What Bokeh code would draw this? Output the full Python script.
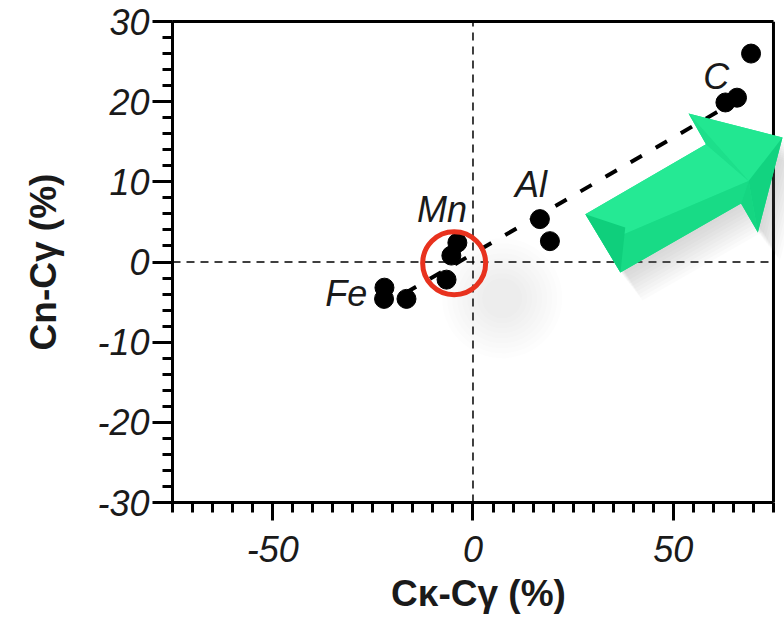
from bokeh.plotting import figure
from bokeh.models import (ColumnDataSource, LinearAxis, SingleIntervalTicker,
                          FixedTicker, Range1d)
from bokeh.core.properties import value
from bokeh.embed import file_html
from bokeh.resources import INLINE

# Composition differences (%) for each alloying element
fe_dk = [-22.1, -22.2, -16.6]
fe_dn = [-3.2, -4.6, -4.6]
mn_dk = [-3.9, -5.4, -6.6]
mn_dn = [2.4, 0.8, -2.2]
al_dk = [16.7, 19.2]
al_dn = [5.35, 2.6]
c_dk = [63.0, 65.9, 69.4]
c_dn = [19.9, 20.5, 26.0]

# Dashed trend through the element groups
trend_dk = [-17.0, 63.0]
trend_dn = [-3.9, 19.3]

# Element names and where they sit (left edge, vertical middle)
element_names = ["Fe", "Mn", "Al", "C"]
element_label_dk = [-36.9, -14.0, 10.5, 57.5]
element_label_dn = [-3.9, 6.6, 9.7, 23.2]

# Tick values and their printed labels (plain hyphen minus)
x_tick_values = [-50, 0, 50]
x_tick_labels = ["-50", "0", "50"]
y_tick_values = [-30, -20, -10, 0, 10, 20, 30]
y_tick_labels = ["-30", "-20", "-10", "0", "10", "20", "30"]

# Highlight ring around the Mn group
ring_dk = [-4.7]
ring_dn = [-0.15]

# Block arrow (data space): tail-top, shaft-top, barb-top, tip, barb-bottom, shaft-bottom, tail-bottom
arrow_dk = [28.05, 58.15, 53.8, 77.25, 71.1, 66.9, 36.8]
arrow_dn = [5.97, 14.70, 18.52, 15.52, 3.68, 7.29, -1.31]
arrow_tail_apex = (38.0, 4.3)
arrow_head_centre = (68.8, 10.1)

X_START, X_END, X_AXIS_END = -75, 77.75, 75
Y_START, Y_END = -30, 30
FRAME_W, FRAME_H = 612, 481
PX_X = FRAME_W / (X_END - X_START)
PX_Y = FRAME_H / (Y_END - Y_START)

p = figure(frame_width=FRAME_W, frame_height=FRAME_H,
           x_range=Range1d(X_START, X_END), y_range=Range1d(Y_START, Y_END),
           min_border_left=172, min_border_right=0, min_border_top=21,
           min_border_bottom=118, x_axis_location=None, y_axis_location=None,
           output_backend="svg", toolbar_location=None)
p.grid.visible = False
p.outline_line_color = None
p.background_fill_color = "white"
p.border_fill_color = "white"

FONT = "Liberation Sans"


def style_axis(ax):
    ax.axis_line_width = 3
    ax.axis_line_color = "black"
    ax.major_tick_line_width = 3
    ax.minor_tick_line_width = 3
    ax.major_tick_in = 0
    ax.minor_tick_in = 0
    ax.minor_tick_out = 10
    ax.major_label_text_font = FONT
    ax.major_label_text_font_style = "italic"
    ax.major_label_text_font_size = "36px"
    ax.major_label_text_color = "#1a1a1a"
    ax.axis_label_text_font = FONT
    ax.axis_label_text_font_style = "bold"
    ax.axis_label_text_font_size = "37px"
    ax.axis_label_text_color = "#1a1a1a"


xaxis = LinearAxis(ticker=SingleIntervalTicker(interval=50, num_minor_ticks=10),
                   bounds=(X_START, X_AXIS_END), axis_label="Cκ-Cγ (%)")
style_axis(xaxis)
xaxis.major_tick_out = 18
xaxis.major_label_standoff = 15
xaxis.axis_label_standoff = 8
xaxis.major_label_overrides = dict(zip(x_tick_values, x_tick_labels))
p.add_layout(xaxis, "below")

yaxis = LinearAxis(ticker=SingleIntervalTicker(interval=10, num_minor_ticks=5),
                   axis_label="Cn-Cγ (%)")
style_axis(yaxis)
yaxis.major_tick_out = 20
yaxis.major_label_standoff = 3
yaxis.axis_label_standoff = 30
yaxis.major_label_overrides = dict(zip(y_tick_values, y_tick_labels))
p.add_layout(yaxis, "left")

top_axis = LinearAxis(ticker=FixedTicker(ticks=[]), bounds=(X_START, X_AXIS_END),
                      axis_line_width=3, major_label_text_font_size="0px")
p.add_layout(top_axis, "above")

# Zero lines
p.segment(x0=[X_START], y0=[0], x1=[X_AXIS_END], y1=[0],
          line_color="black", line_width=1.5, line_dash="8 6")
p.segment(x0=[0], y0=[Y_START], x1=[0], y1=[Y_END],
          line_color="black", line_width=1.5, line_dash="8 6")

# Right border of the plot box
p.segment(x0=[X_AXIS_END], y0=[Y_START], x1=[X_AXIS_END], y1=[Y_END],
          line_color="black", line_width=3)

# Soft shadow of the highlight ring
for s in range(120, 30, -10):
    p.scatter(x=[ring_dk[0] + 48 / PX_X], y=[ring_dn[0] - 35 / PX_Y], size=s,
              marker="circle", fill_color="#808080", fill_alpha=0.016, line_color=None)

# Trend line
p.line(trend_dk, trend_dn, line_color="black", line_width=4, line_dash="13 16")

# Data points
all_dk = fe_dk + mn_dk + al_dk + c_dk
all_dn = fe_dn + mn_dn + al_dn + c_dn
p.scatter(x=all_dk, y=all_dn, size=19, marker="circle",
          fill_color="black", line_color="black")

# Highlight ring
p.scatter(x=ring_dk, y=ring_dn, size=63, marker="circle", fill_color=None,
          line_color="#e8321e", line_width=5)

# Arrow shadow
for i in range(1, 11):
    dx, dy = 2.2 * i, 2.8 * i
    p.patch([v + dx / PX_X for v in arrow_dk], [v - dy / PX_Y for v in arrow_dn],
            fill_color="#707070", fill_alpha=0.03, line_color=None)

# Arrow body and bevel facets
p.patch(arrow_dk, arrow_dn, fill_color="#1de28c", line_color=None)
tail_mid = ((arrow_dk[0] + arrow_dk[6]) / 2, (arrow_dn[0] + arrow_dn[6]) / 2)
hx, hy = arrow_head_centre
tx, ty = arrow_tail_apex
# upper band (lit)
p.patch([tail_mid[0], arrow_dk[0], arrow_dk[1], hx],
        [tail_mid[1], arrow_dn[0], arrow_dn[1], hy],
        fill_color="#25e994", line_color=None)
# lower band (shaded)
p.patch([tail_mid[0], hx, arrow_dk[5], arrow_dk[6]],
        [tail_mid[1], hy, arrow_dn[5], arrow_dn[6]],
        fill_color="#18db86", line_color=None)
# tail end facet
p.patch([arrow_dk[0], tx, arrow_dk[6]], [arrow_dn[0], ty, arrow_dn[6]],
        fill_color="#0fcf7c", line_color=None)
# head facets
p.patch([arrow_dk[2], arrow_dk[3], hx], [arrow_dn[2], arrow_dn[3], hy],
        fill_color="#22e791", line_color=None)
p.patch([arrow_dk[1], arrow_dk[2], hx], [arrow_dn[1], arrow_dn[2], hy],
        fill_color="#1ddf8b", line_color=None)
p.patch([hx, arrow_dk[3], arrow_dk[4]], [hy, arrow_dn[3], arrow_dn[4]],
        fill_color="#12d380", line_color=None)
p.patch([hx, arrow_dk[4], arrow_dk[5]], [hy, arrow_dn[4], arrow_dn[5]],
        fill_color="#15d682", line_color=None)

# Element labels
labels = ColumnDataSource(dict(x=element_label_dk, y=element_label_dn, t=element_names))
p.text(x="x", y="y", text="t", source=labels, text_font=value(FONT),
       text_font_style="italic", text_font_size="36px", text_color="#1a1a1a",
       text_align="left", text_baseline="middle")

open("out.html", "w").write(file_html(p, INLINE))
